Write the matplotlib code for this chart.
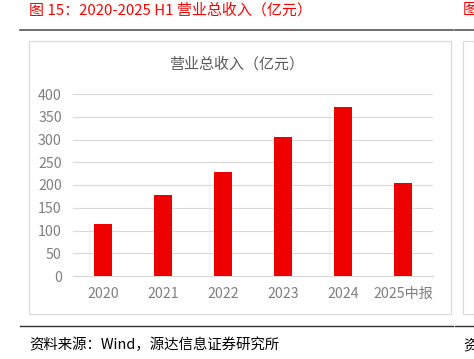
import matplotlib
matplotlib.use('Agg')
import matplotlib.pyplot as plt
from matplotlib.patches import Rectangle
from matplotlib.lines import Line2D

plt.rcParams['font.family'] = ['Noto Sans CJK SC', 'DejaVu Sans']

categories = ['2020', '2021', '2022', '2023', '2024', '2025中报']
revenue = [114, 179, 229, 305, 371, 204]
yticks = [0, 50, 100, 150, 200, 250, 300, 350, 400]

W, H = 474, 359
fig = plt.figure(figsize=(W / 100, H / 100), dpi=100)


def fx(px):
    return px / W


def fy(py):
    return 1 - py / H


red = '#ee0000'
gray = '#7f7f7f'

# figure caption and rules
fig.text(fx(29), fy(10), '图 15：2020-2025 H1 营业总收入（亿元）', color='#ff0000',
         fontsize=10.8, ha='left', va='center')
fig.text(fx(463), fy(10), '图', color='#ff0000', fontsize=10.8, ha='left', va='center')
fig.add_artist(Line2D([fx(20), fx(453)], [fy(29.5), fy(29.5)], color='#555555', lw=1.2))
fig.add_artist(Line2D([fx(455), fx(474)], [fy(29.5), fy(29.5)], color='#555555', lw=1.2))
fig.add_artist(Line2D([fx(20), fx(453)], [fy(326), fy(326)], color='#333333', lw=1.0))
fig.add_artist(Line2D([fx(455), fx(474)], [fy(326), fy(326)], color='#333333', lw=1.0))
fig.text(fx(29), fy(345), '资料来源：Wind，源达信息证券研究所', color='black',
         fontsize=10.4, ha='left', va='center')
fig.text(fx(463), fy(345), '资', color='black', fontsize=10.4, ha='left', va='center')

# chart boxes
fig.add_artist(Rectangle((fx(28.5), fy(314)), fx(451) - fx(28.5), fy(41) - fy(314),
                         fill=False, ec='#d9d9d9', lw=0.8))
fig.add_artist(Rectangle((fx(463), fy(314)), fx(480) - fx(463), fy(41) - fy(314),
                         fill=False, ec='#d9d9d9', lw=0.8))

fig.text(fx(237), fy(64), '营业总收入（亿元）', color='#595959', fontsize=10.8,
         ha='center', va='center')

ax = fig.add_axes([fx(73), fy(276), fx(433) - fx(73), fy(94) - fy(276)])
x = range(len(categories))
ax.bar(x, revenue, width=0.31, color=red, zorder=3)
ax.set_xlim(-0.5, len(categories) - 0.5)
ax.set_ylim(0, 400)
ax.set_yticks(yticks)
ax.set_xticks(list(x))
ax.set_xticklabels(categories)
ax.grid(axis='y', color='#d9d9d9', lw=0.8, zorder=0)
for s in ['top', 'right', 'left']:
    ax.spines[s].set_visible(False)
ax.spines['bottom'].set_color('#d9d9d9')
ax.tick_params(axis='both', length=0, colors=gray, labelsize=10.2)
ax.tick_params(axis='y', pad=8)
ax.tick_params(axis='x', pad=8)

fig.savefig('out.png', dpi=100)
